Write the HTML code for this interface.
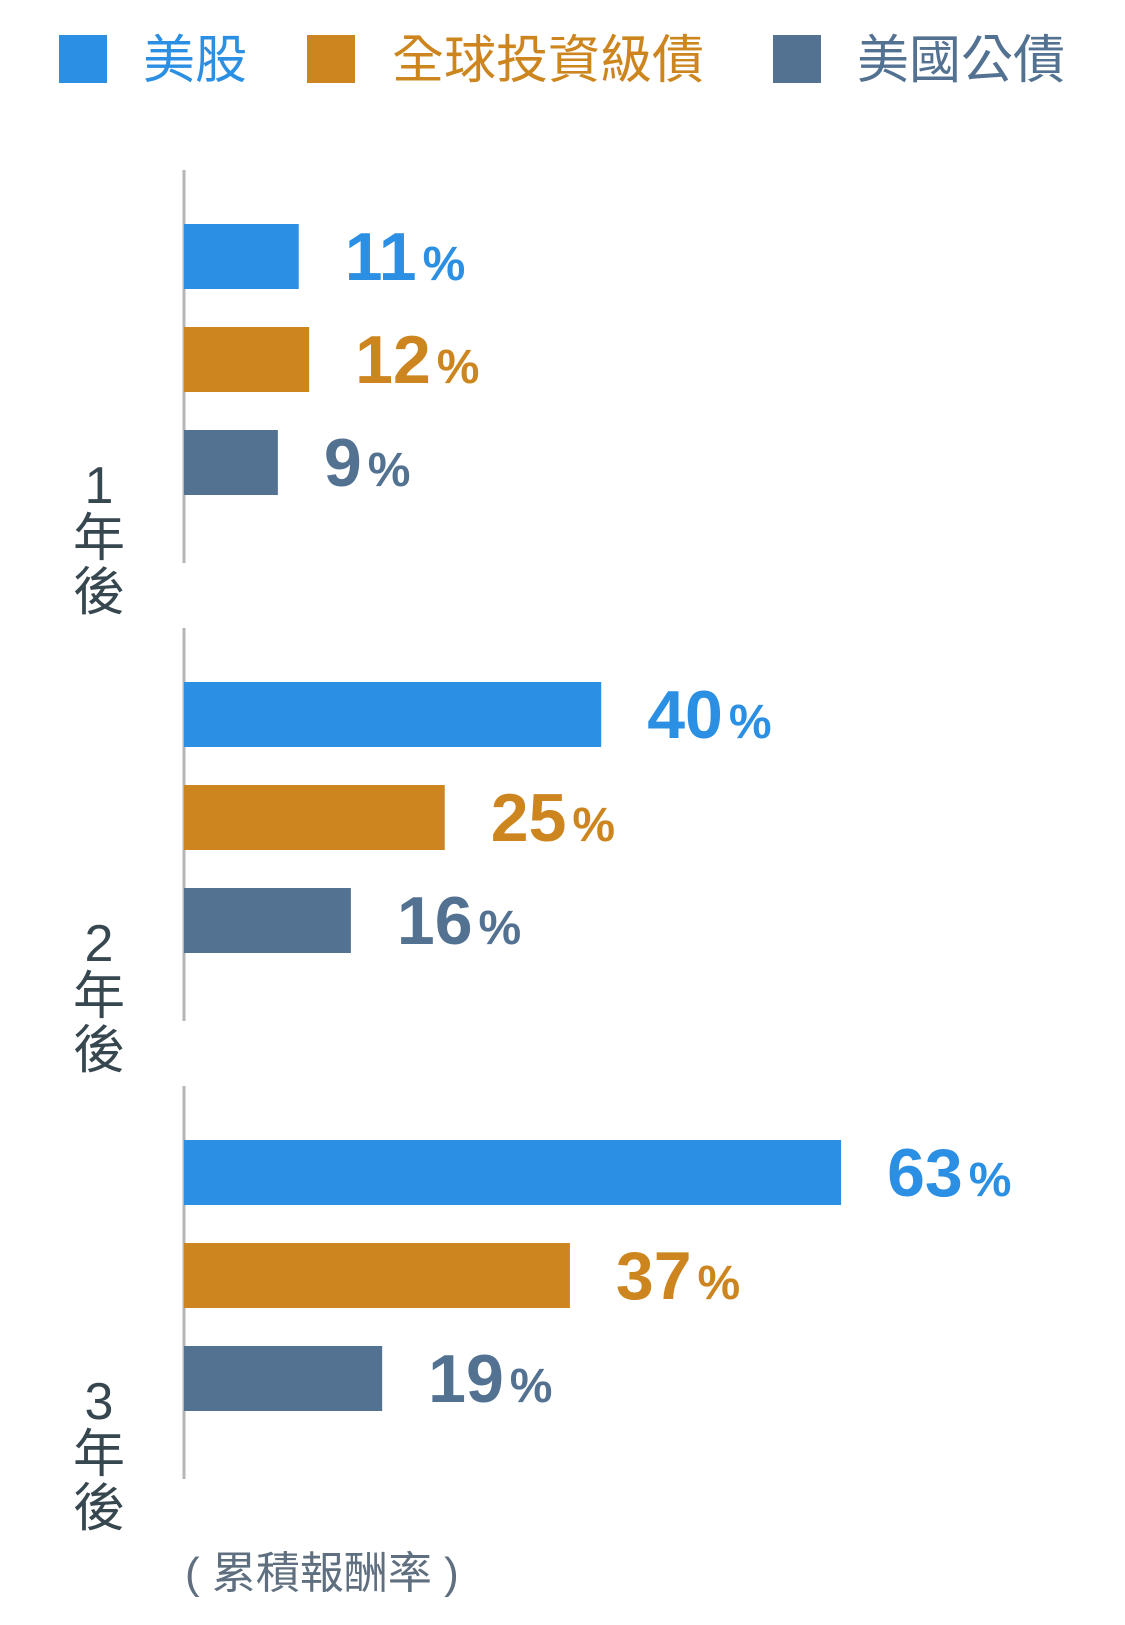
<!DOCTYPE html>
<html><head><meta charset="utf-8"><style>
body{margin:0;background:#fff;}
svg text{font-family:"Liberation Sans","Noto Sans CJK TC",sans-serif;}
</style></head><body>
<svg id="chart" width="1125" height="1620" viewBox="0 0 1125 1620" xmlns="http://www.w3.org/2000/svg">
<g>
<rect x="59" y="35" width="48" height="48" fill="#2b8fe3"/>
<text x="143" y="78" font-size="52" fill="#2b8fe3">美股</text>
<rect x="307" y="35" width="48" height="48" fill="#cd861f"/>
<text x="392" y="78" font-size="52" fill="#cd861f">全球投資級債</text>
<rect x="773" y="35" width="48" height="48" fill="#537292"/>
<text x="857" y="78" font-size="52" fill="#537292">美國公債</text>
</g>
<g id="plot"></g>
<text x="185" y="1588" font-size="44" fill="#5f6f7f">( 累積報酬率 )</text>
</svg>
<script>
const periods = ["1","2","3"];
const usStocks = [11, 40, 63];
const globalIG = [12, 25, 37];
const usTreasuries = [9, 16, 19];
const seriesNames = ["us-stocks","global-ig-bonds","us-treasuries"];
const colors = ["#2b8fe3","#cd861f","#537292"];
const NS = "http://www.w3.org/2000/svg";
const plot = document.getElementById("plot");
const axisX = 184, pxPerPct = 10.43;
const xScale = v => axisX + v * pxPerPct;
const groupY = i => 170 + i * 458;
const series = [usStocks, globalIG, usTreasuries];
function mk(tag, attrs){const e=document.createElementNS(NS,tag);for(const k in attrs)e.setAttribute(k,attrs[k]);return e;}
periods.forEach((p, i) => {
  const g0 = groupY(i);
  const ax = mk("line",{x1:axisX,x2:axisX,y1:g0,y2:g0+393,stroke:"#b5b5b5","stroke-width":3});
  
  
  plot.appendChild(ax);
  const lab = mk("text",{x:99,"text-anchor":"middle","font-size":52,fill:"#37474f"});
  
  
  [[p,333],["年",386],["後",440]].forEach(([t,y])=>{const ts=mk("tspan",{x:99,y:g0+y});ts.textContent=t;lab.appendChild(ts);});
  plot.appendChild(lab);
  series.forEach((s, j) => {
    const y = g0 + 54 + j * 103;
    const r = mk("rect",{x:axisX,y:y,width:xScale(s[i])-axisX,height:65,fill:colors[j]});
    
    
    plot.appendChild(r);
    const t = mk("text",{x:xScale(s[i])+46,y:y+56,fill:colors[j],"font-weight":"bold"});
    
    
    const a = mk("tspan",{"font-size":68});a.textContent=s[i];
    const b = mk("tspan",{"font-size":48,dx:6});b.textContent="%";
    t.appendChild(a);t.appendChild(b);
    plot.appendChild(t);
  });
});
</script>
</body></html>
